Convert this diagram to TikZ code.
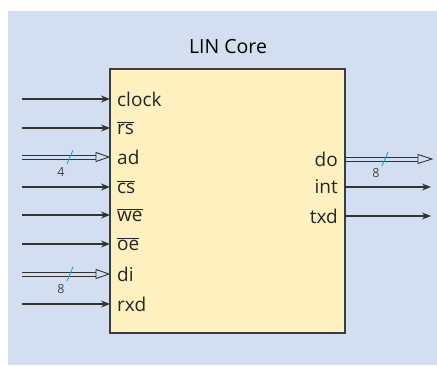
\documentclass[tikz,border=0pt]{standalone}
\usepackage{fontspec}
\setmainfont{Open Sans}
\usetikzlibrary{arrows.meta}
\definecolor{bgfill}{HTML}{D3DEF0}
\definecolor{corefill}{HTML}{FFF0C0}
\definecolor{coreedge}{HTML}{3C3C3C}
\definecolor{sigedge}{HTML}{333333}
\definecolor{slashedge}{HTML}{1EA8E0}
\definecolor{widthtext}{HTML}{444444}
\newcommand{\lowact}[1]{$\overline{\mbox{#1}}$}

\begin{document}
\begin{tikzpicture}[x=1pt, y=-1pt,
  core/.style={rectangle, draw=coreedge, fill=corefill, line width=1.1pt},
  pin/.style={inner sep=0pt, font=\fontsize{19}{22}\selectfont, text=black!85},
  sig/.style={draw=sigedge, line width=1.1pt, -{Stealth[length=9pt, width=7pt]}},
  busline/.style={draw=sigedge, line width=0.9pt},
  bustip/.style={draw=sigedge, line width=0.9pt, fill=bgfill, line join=miter},
  slash/.style={draw=slashedge, line width=0.9pt},
  wlab/.style={font=\fontsize{12.5}{14}\selectfont, text=widthtext},
]
% ---- background and frame ----
\useasboundingbox (0,0) rectangle (437,365);
\fill[bgfill] (8,11) rectangle (437,365);
\node[font=\fontsize{19.5}{23}\selectfont] (title) at (228,47) {LIN Core};
\draw[core] (110,69) rectangle (345,333);
\coordinate (core-w) at (110,69);
\coordinate (core-e) at (345,69);
% ---- input pins ----
\node[pin, anchor=west] (clock) at (117,99) {clock};
\node[pin, anchor=west] (rs) at (117,128) {\lowact{rs}};
\node[pin, anchor=west] (ad) at (117,157) {ad};
\node[pin, anchor=west] (cs) at (117,187) {\lowact{cs}};
\node[pin, anchor=west] (we) at (117,215) {\lowact{we}};
\node[pin, anchor=west] (oe) at (117,244) {\lowact{oe}};
\node[pin, anchor=west] (di) at (117,274) {di};
\node[pin, anchor=west] (rxd) at (117,304) {rxd};
% ---- output pins ----
\node[pin, anchor=east] (do) at (338,159) {do};
\node[pin, anchor=east] (int) at (338,187) {int};
\node[pin, anchor=east] (txd) at (338,216) {txd};
% ---- input connectors ----
\foreach \p in {clock, rs, cs, we, oe, rxd} {
  \coordinate (src-\p) at (22,0 |- \p.west);
  \draw[sig] (src-\p) -- (core-w |- \p.west);
}
% buses: two rails and an open head
\foreach \p in {ad, di} {
  \coordinate (src-\p) at (22,0 |- \p.west);
  \draw[busline] ([yshift=-2pt]src-\p) -- ([xshift=-12pt, yshift=-2pt]core-w |- \p.west);
  \draw[busline] ([yshift=2pt]src-\p) -- ([xshift=-12pt, yshift=2pt]core-w |- \p.west);
  \draw[bustip] ([xshift=-14pt, yshift=-4.5pt]core-w |- \p.west) -- ([xshift=-1pt]core-w |- \p.west)
    -- ([xshift=-14pt, yshift=4.5pt]core-w |- \p.west) -- cycle;
}
% ---- output connectors ----
\foreach \p in {int, txd} {
  \coordinate (dst-\p) at (431,0 |- \p.east);
  \draw[sig] (core-e |- \p.east) -- (dst-\p);
}
\coordinate (dst-do) at (432,0 |- do.east);
\draw[busline] ([yshift=-2pt]core-e |- do.east) -- ([xshift=-12pt, yshift=-2pt]dst-do);
\draw[busline] ([yshift=2pt]core-e |- do.east) -- ([xshift=-12pt, yshift=2pt]dst-do);
\draw[bustip] ([xshift=-14pt, yshift=-4.5pt]dst-do) -- (dst-do) -- ([xshift=-14pt, yshift=4.5pt]dst-do) -- cycle;
% ---- bus widths ----
\draw[slash] ([shift={(67,7)}]0,0 |- ad.west) -- ++(6,-14);
\node[wlab] (w-ad) at (61,172) {4};
\draw[slash] ([shift={(67,7)}]0,0 |- di.west) -- ++(6,-14);
\node[wlab] (w-di) at (61,289) {8};
\draw[slash] ([shift={(382,7)}]0,0 |- do.east) -- ++(6,-14);
\node[wlab] (w-do) at (376,173) {8};
\end{tikzpicture}
\end{document}
